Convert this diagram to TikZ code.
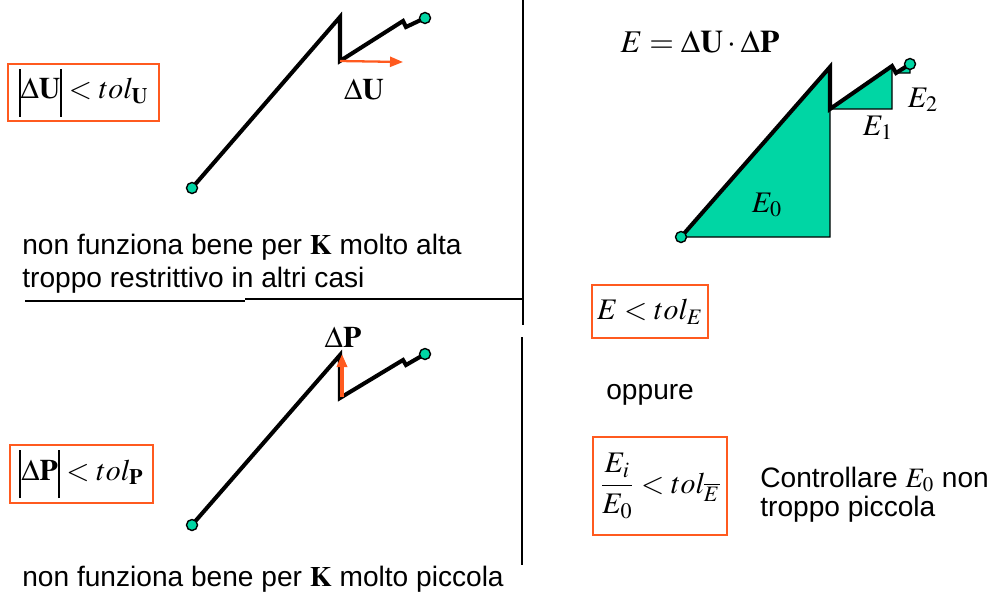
\documentclass[tikz,border=0pt]{standalone}
\usepackage{amsmath}
\usepackage{mathptmx}
\usepackage[no-math]{fontspec}
\setmainfont{Liberation Sans}
\usetikzlibrary{arrows.meta}
\definecolor{Aqua}{HTML}{00D6A4}
\definecolor{Flame}{HTML}{FF5A1F}
\newcommand\txtsize{\fontsize{16}{19}\selectfont}
\newcommand\formsize{\fontsize{17}{20}\selectfont}
\newcommand\absbar{\rule[-.36cm]{1.1pt}{.96cm}}
\tikzset{rule/.style={line width=1pt,black},curve/.style={line width=2.3pt,black},knot/.style={circle,fill=Aqua,draw=black,line width=.8pt,minimum size=.22cm,inner sep=0pt},push/.style={-{Triangle[length=2.6mm,width=2mm]},line width=1.3pt,draw=Flame},area/.style={fill=Aqua,draw=black,line width=.7pt},tolbox/.style={draw=Flame,line width=1.6pt,inner sep=0pt,font=\formsize},lbl/.style={font=\formsize,inner sep=0pt},txt/.style={font=\txtsize,anchor=base west,inner sep=0pt}}

\begin{document}
\begin{tikzpicture}[x=.02cm,y=-.02cm]
\useasboundingbox (0,0) rectangle (989,599);
% dividers
\draw[rule] (523,0) -- (523,325);
\draw[rule] (522,337) -- (522,565);
\draw[rule] (25,301) -- (245,301);
\draw[rule] (245,299) -- (523,299);
% displacement check
\foreach \n/\x/\y in {a0/192/188,a1/340/17,a2/340/61,a3/403/21,a4/406/27,a5/425/18,du/403/62}\coordinate (\n) at (\x,\y);
\draw[curve] (a0) -- (a1) -- (a2) -- (a3) -- (a4) -- (a5);
\draw[push] (a2) -- (du);
\node[knot] (a0k) at (a0) {};
\node[knot] (a5k) at (a5) {};
\node[lbl] (dulbl) at (364,90) {$\Delta\mathbf{U}$};
\node[tolbox,minimum width=3.02cm,minimum height=1.14cm] (tolu) at (83.5,92.5) {$\absbar\Delta\mathbf{U}\absbar < tol_{\mathbf{U}}$};
\node[txt] (altak) at (22,254) {non funziona bene per $\mathbf{K}$ molto alta};
\node[txt] (restr) at (22,287) {troppo restrittivo in altri casi};
% force check
\foreach \n/\x/\y in {b0/192/525,b1/340/355,b2/340/398,b3/403/360,b4/406/365,b5/425/354,dp0/342/397,dp1/342/354}\coordinate (\n) at (\x,\y);
\draw[curve] (b0) -- (b1) -- (b2) -- (b3) -- (b4) -- (b5);
\draw[push,line width=2pt] (dp0) -- (dp1);
\node[knot] (b0k) at (b0) {};
\node[knot] (b5k) at (b5) {};
\node[lbl] (dplbl) at (343,337) {$\Delta\mathbf{P}$};
\node[tolbox,minimum width=2.86cm,minimum height=1.16cm] (tolp) at (81.5,474) {$\absbar\Delta\mathbf{P}\absbar < tol_{\mathbf{P}}$};
\node[txt] (picck) at (22,586) {non funziona bene per $\mathbf{K}$ molto piccola};
% energy check
\foreach \n/\x/\y in {c0/681/237,c1/830/67,c2/830/237,c3/830/109,c4/892/66,c5/892/109,c6/896/73,c7/910/66,c8/910/73,c9/910/64}\coordinate (\n) at (\x,\y);
\draw[area] (c0) -- (c1) -- (c2) -- cycle;
\draw[area] (c3) -- (c4) -- (c5) -- cycle;
\draw[area] (c6) -- (c7) -- (c8) -- cycle;
\draw[curve] (c0) -- (c1) -- (c3) -- (c4) -- (c6) -- (c9);
\node[knot] (c0k) at (c0) {};
\node[knot] (c9k) at (c9) {};
\node[lbl,font=\fontsize{18}{21}\selectfont] (elbl) at (700,42) {$E = \Delta\mathbf{U}\cdot\Delta\mathbf{P}$};
\node[lbl] (e0) at (767,205) {$E_0$};
\node[lbl] (e1) at (878,128) {$E_1$};
\node[lbl] (e2) at (923,100) {$E_2$};
\node[tolbox,minimum width=2.32cm,minimum height=1.06cm] (tole) at (650,311.5) {$E < tol_E$};
\node[txt] (oppure) at (606,399) {oppure};
\node[tolbox,minimum width=2.68cm,minimum height=1.96cm] (tolr) at (660,486) {$\dfrac{E_i}{E_0} < tol_{\overline{E}}$};
\node[txt] (ctrl) at (760,487) {Controllare $E_0$ non};
\node[txt] (picc) at (760,516) {troppo piccola};
\end{tikzpicture}
\end{document}
